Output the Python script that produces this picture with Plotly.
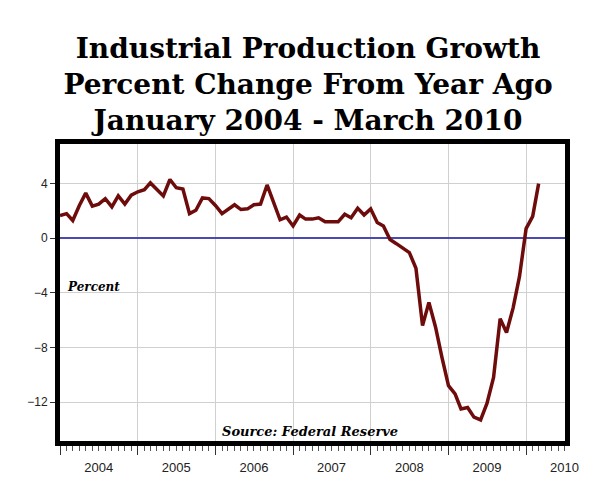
import pandas as pd
import plotly.graph_objects as go

# Industrial production, percent change from year ago (monthly, Jan 2004 - Mar 2010)
months = pd.date_range("2004-01-01", "2010-03-01", freq="MS")
growth = [
    1.65, 1.8, 1.3, 2.4, 3.3, 2.35, 2.5, 2.9, 2.3, 3.1, 2.5, 3.15,   # 2004
    3.4, 3.55, 4.05, 3.6, 3.1, 4.3, 3.7, 3.6, 1.8, 2.05, 2.95, 2.9,  # 2005
    2.4, 1.8, 2.1, 2.45, 2.1, 2.15, 2.45, 2.5, 3.9, 2.65, 1.35, 1.55,  # 2006
    0.9, 1.7, 1.4, 1.4, 1.5, 1.2, 1.2, 1.2, 1.75, 1.5, 2.2, 1.7,     # 2007
    2.15, 1.15, 0.9, -0.1, -0.4, -0.7, -1.05, -2.2, -6.4, -4.7, -6.5, -8.7,  # 2008
    -10.8, -11.4, -12.5, -12.4, -13.1, -13.3, -12.1, -10.2, -5.9, -6.9, -5.1, -2.8,  # 2009
    0.7, 1.6, 4.0,                                                   # 2010
]

year_starts = pd.date_range("2004-01-01", "2010-01-01", freq="YS")
year_mids = pd.date_range("2004-07-01", "2010-07-01", freq="12MS")
year_labels = [str(d.year) for d in year_mids]
y_ticks = [4, 0, -4, -8, -12]

fig = go.Figure()
fig.add_trace(go.Scatter(x=months, y=growth, mode="lines",
                         line=dict(color="#6e0b0b", width=3.5),
                         hoverinfo="x+y", showlegend=False))
# invisible trace to carry the year labels axis
fig.add_trace(go.Scatter(x=[year_mids[0]], y=[0], xaxis="x2", mode="markers",
                         marker=dict(opacity=0), hoverinfo="skip", showlegend=False))

xrange = ["2004-01-01", "2010-07-03"]
tickfont = dict(family="Liberation Sans, Arial", size=12, color="#222")

fig.update_layout(
    width=604, height=500,
    paper_bgcolor="white", plot_bgcolor="white",
    margin=dict(l=60, r=39, t=144, b=59),
    title=dict(
        text="Industrial Production Growth<br>Percent Change From Year Ago<br>January 2004 - March 2010",
        font=dict(family="DejaVu Serif", size=28, color="black", weight="bold"),
        x=0.51, xanchor="center", y=0.885, yanchor="top", yref="container"),
    xaxis=dict(
        type="date", range=xrange,
        tickvals=year_starts, ticktext=[""] * len(year_starts),
        ticks="outside", ticklen=9, tickwidth=1, tickcolor="#333",
        minor=dict(dtick="M1", tick0="2004-01-01", ticks="outside", ticklen=5,
                   tickcolor="#555", showgrid=False),
        showgrid=True, gridcolor="#d0d0d0", gridwidth=1,
        showline=True, linecolor="black", linewidth=5, mirror=True,
        zeroline=False),
    xaxis2=dict(
        type="date", range=xrange, overlaying="x", anchor="y", side="bottom",
        tickvals=year_mids, ticktext=year_labels, ticks="",
        tickfont=dict(family="Liberation Sans, Arial", size=13, color="#222"),
        showgrid=False, showline=False, zeroline=False, ticklabelstandoff=17),
    yaxis=dict(
        range=[-14.85, 6.9], tickvals=y_ticks, ticks="outside", ticklen=5,
        tickcolor="#333", tickfont=tickfont,
        showgrid=True, gridcolor="#d0d0d0", gridwidth=1,
        zeroline=True, zerolinecolor="#4a4ab0", zerolinewidth=2,
        showline=True, linecolor="black", linewidth=5, mirror=True),
    annotations=[
        dict(text="<b><i>Percent</i></b>", xref="paper", yref="y", x=0.01, y=-3.6,
             xanchor="left", yanchor="middle", showarrow=False,
             font=dict(family="DejaVu Serif", size=12, color="black")),
        dict(text="<b><i>Source: Federal Reserve</i></b>", xref="paper", yref="paper",
             x=0.495, y=0.0, xanchor="center", yanchor="bottom", showarrow=False,
             font=dict(family="DejaVu Serif", size=13, color="black")),
    ],
)

# drop the page's default body margin so the figure sits at the window corner
fig.write_html("out.html", config={"displayModeBar": False},
               post_script="document.body.style.margin = '0';")
